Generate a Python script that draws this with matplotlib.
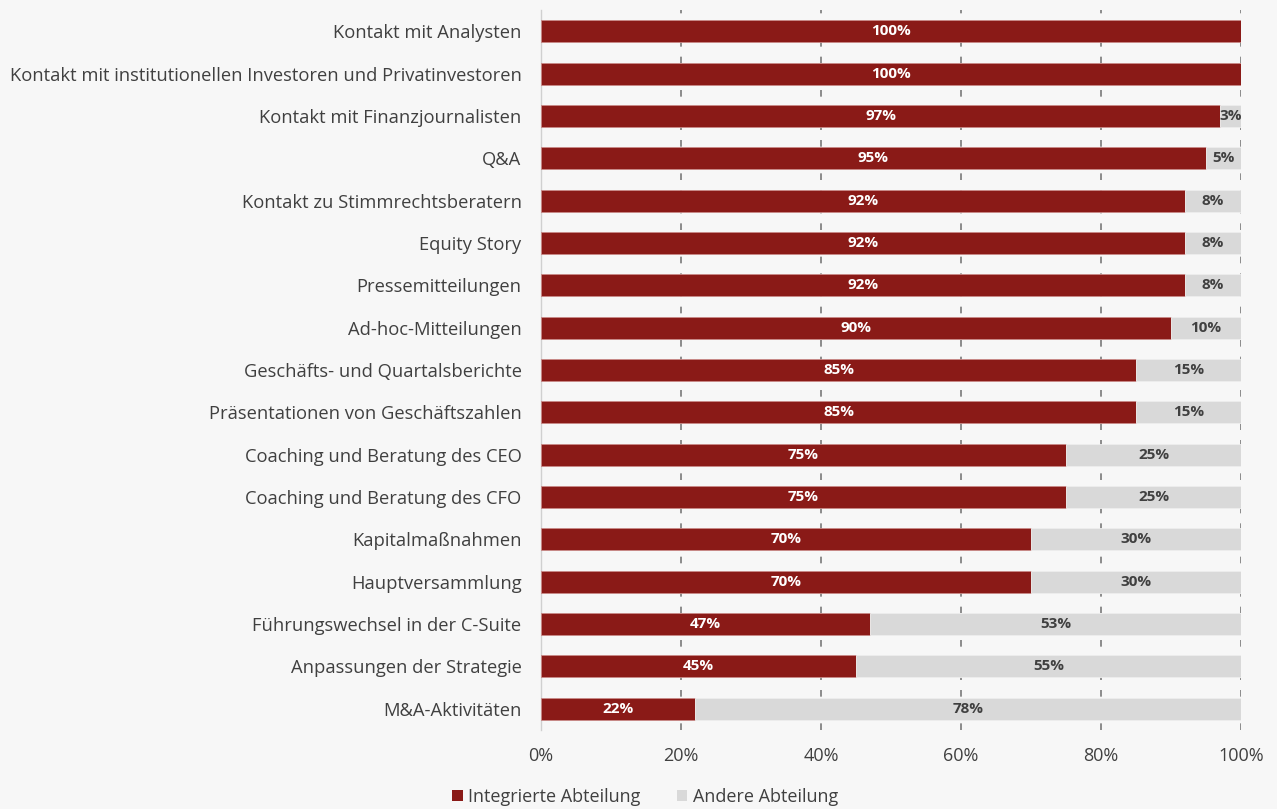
import matplotlib
matplotlib.use("Agg")
import matplotlib.pyplot as plt
from matplotlib.ticker import FuncFormatter
from matplotlib.patches import Patch

categories = [
    "Kontakt mit Analysten",
    "Kontakt mit institutionellen Investoren und Privatinvestoren",
    "Kontakt mit Finanzjournalisten",
    "Q&A",
    "Kontakt zu Stimmrechtsberatern",
    "Equity Story",
    "Pressemitteilungen",
    "Ad-hoc-Mitteilungen",
    "Geschäfts- und Quartalsberichte",
    "Präsentationen von Geschäftszahlen",
    "Coaching und Beratung des CEO",
    "Coaching und Beratung des CFO",
    "Kapitalmaßnahmen",
    "Hauptversammlung",
    "Führungswechsel in der C-Suite",
    "Anpassungen der Strategie",
    "M&A-Aktivitäten",
]
integriert = [100, 100, 97, 95, 92, 92, 92, 90, 85, 85, 75, 75, 70, 70, 47, 45, 22]
andere = [0, 0, 3, 5, 8, 8, 8, 10, 15, 15, 25, 25, 30, 30, 53, 55, 78]
series_names = ["Integrierte Abteilung", "Andere Abteilung"]
xticks = [0, 20, 40, 60, 80, 100]

RED = "#8a1a17"
GREY = "#d9d9d9"
BG = "#f7f7f7"
FONT = ["Open Sans", "DejaVu Sans"]

plt.rcParams["font.family"] = FONT

fig = plt.figure(figsize=(12.77, 8.09), dpi=100, facecolor=BG)
ax = fig.add_axes([541 / 1277, 1 - 730 / 809, 700 / 1277, 720 / 809])
ax.set_facecolor(BG)

y = list(range(len(categories)))
h = 0.52
ax.barh(y, integriert, height=h, color=RED, edgecolor="#c98a88", linewidth=0.6, zorder=3)
ax.barh(y, andere, left=integriert, height=h, color=GREY, edgecolor="#eeeeee", linewidth=0.6, zorder=3)

for yi, a, b in zip(y, integriert, andere):
    if a > 0:
        ax.text(a / 2, yi, f"{a}%", ha="center", va="center", color="white",
                fontsize=11, fontweight="bold", zorder=4)
    if b > 0:
        ax.text(a + b / 2, yi, f"{b}%", ha="center", va="center", color="#404040",
                fontsize=11, fontweight="bold", zorder=4)

ax.set_ylim(len(categories) - 0.5, -0.5)
ax.set_xlim(0, 100)
ax.set_yticks(y)
ax.set_yticklabels(categories, fontsize=13.2, color="#404040")
ax.set_xticks(xticks)
ax.xaxis.set_major_formatter(FuncFormatter(lambda v, p: f"{v:.0f}%"))
ax.tick_params(axis="x", labelsize=13, colors="#404040", length=0, pad=12)
ax.tick_params(axis="y", length=0, pad=14)

for s in ["top", "right", "bottom"]:
    ax.spines[s].set_visible(False)
ax.spines["left"].set_color("#d0d0d0")
ax.spines["left"].set_linewidth(1.0)

ax.grid(axis="x", color="#7a7a7a", linestyle=(0, (4, 6)), linewidth=1.2, zorder=0)
ax.grid(axis="y", visible=False)
ax.set_axisbelow(True)

handles = [Patch(facecolor=RED, label=series_names[0]),
           Patch(facecolor=GREY, label=series_names[1])]
fig.legend(handles=handles, loc="center", bbox_to_anchor=(645 / 1277, 1 - 797 / 809),
           ncol=2, frameon=False, fontsize=13, handlelength=0.6, handleheight=0.6,
           handletextpad=0.3, columnspacing=2.0, labelcolor="#404040")

fig.savefig("out.png", dpi=100, facecolor=BG)
